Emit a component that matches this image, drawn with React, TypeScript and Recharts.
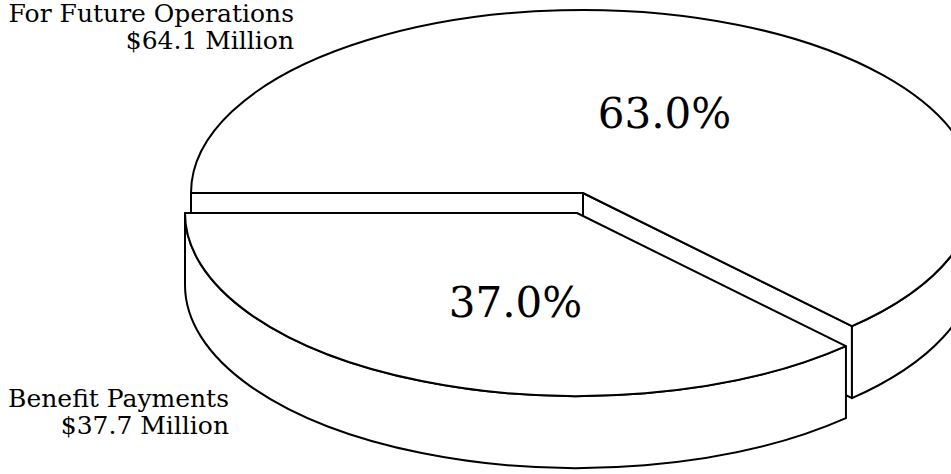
// 3D-style exploded pie, drawn with Recharts and a custom slice shape

import React from 'react'
import { PieChart, Pie } from 'recharts'

const categories = ['For Future Operations', 'Benefit Payments']
const amounts = [64.1, 37.7]
const amountLabels = ['$64.1 Million', '$37.7 Million']
const explodedCategory = 'Benefit Payments'

const data = categories.map((name, i) => ({ name, value: amounts[i], amountLabel: amountLabels[i] }))

// look of the fake 3D pie
const TILT = 0.467
const DEPTH = 72
const EXPLODE_DX = -6
const EXPLODE_DY = 20
const FONT = '"DejaVu Serif", serif'

const rad = (d: number) => (d * Math.PI) / 180

function pt(cx: number, cy: number, rx: number, ry: number, deg: number) {
  return [cx + rx * Math.cos(rad(deg)), cy - ry * Math.sin(rad(deg))]
}

function Slice3D(props: any) {
  const { cx, cy, outerRadius, startAngle, endAngle } = props
  const name = props.name ?? props.payload?.name
  const exploded = name === explodedCategory
  const x0 = cx + (exploded ? EXPLODE_DX : 0)
  const y0 = cy + (exploded ? EXPLODE_DY : 0)
  const rx = outerRadius
  const ry = outerRadius * TILT

  let lo = Math.min(startAngle, endAngle)
  let hi = Math.max(startAngle, endAngle)
  while (lo < 0) { lo += 360; hi += 360 }

  const p = (deg: number) => pt(x0, y0, rx, ry, deg)

  const cutFace = (deg: number) => {
    const [x, y] = p(deg)
    return `M${x0},${y0} L${x},${y} L${x},${y + DEPTH} L${x0},${y0 + DEPTH} Z`
  }

  const rim = (b1: number, b2: number) => {
    const [x1, y1] = p(b1)
    const [x2, y2] = p(b2)
    const large = b2 - b1 > 180 ? 1 : 0
    return `M${x1},${y1} A${rx},${ry} 0 ${large} 0 ${x2},${y2} L${x2},${y2 + DEPTH} A${rx},${ry} 0 ${large} 1 ${x1},${y1 + DEPTH} Z`
  }

  // only the faces turned towards the viewer
  const faces: string[] = []
  if (Math.cos(rad(lo)) > 1e-6) faces.push(cutFace(lo))
  if (Math.cos(rad(hi)) < -1e-6) faces.push(cutFace(hi))
  for (const k of [0, 1]) {
    const b1 = Math.max(lo, 180 + 360 * k)
    const b2 = Math.min(hi, 360 + 360 * k)
    if (b2 > b1) faces.push(rim(b1, b2))
  }

  const [sx, sy] = p(lo)
  const [ex, ey] = p(hi)
  const top = `M${x0},${y0} L${sx},${sy} A${rx},${ry} 0 ${hi - lo > 180 ? 1 : 0} 0 ${ex},${ey} Z`

  return (
    <g>
      {faces.map((d, i) => (
        <path key={i} d={d} fill="#fff" stroke="#000" strokeWidth={2} strokeLinejoin="round" />
      ))}
      <path d={top} fill="#fff" stroke="#000" strokeWidth={2} strokeLinejoin="round" />
    </g>
  )
}

function renderLabel(props: any) {
  const { cx, cy, midAngle, outerRadius, percent } = props
  const name = props.name ?? props.payload?.name
  const amountLabel = props.payload?.amountLabel ?? props.amountLabel
  const exploded = name === explodedCategory
  const x0 = cx + (exploded ? EXPLODE_DX : 0)
  const y0 = cy + (exploded ? EXPLODE_DY : 0)
  const [lx, ly] = pt(x0, y0, outerRadius * 0.46, outerRadius * TILT * 0.5, midAngle)

  // outside name labels sit at the left of the pie
  const nx = exploded ? 229 : 294
  const ny = exploded ? 407 : 22

  return (
    <g>
      <text x={lx + 10} y={ly + 5} textAnchor="middle" dominantBaseline="central"
        fontFamily={FONT} fontSize={42} fill="#000">
        {(percent * 100).toFixed(1)}%
      </text>
      <text x={nx} y={ny} textAnchor="end" fontFamily={FONT} fontSize={25} fill="#000">
        {name}
      </text>
      <text x={nx} y={ny + 27} textAnchor="end" fontFamily={FONT} fontSize={25} fill="#000">
        {amountLabel}
      </text>
    </g>
  )
}

export default function App() {
  return (
    <div style={{ position: 'absolute', left: 0, top: 0, width: 951, height: 474, background: '#fff' }}>
      <PieChart width={951} height={474} margin={{ top: 0, right: 0, bottom: 0, left: 0 }}>
        <Pie
          data={data}
          dataKey="value"
          nameKey="name"
          cx={583}
          cy={193}
          outerRadius={392}
          startAngle={180}
          endAngle={-180}
          fill="#fff"
          stroke="#000"
          shape={Slice3D}
          inactiveShape={Slice3D}
          activeShape={Slice3D}
          label={renderLabel}
          labelLine={false}
          isAnimationActive={false}
        />
      </PieChart>
    </div>
  )
}
